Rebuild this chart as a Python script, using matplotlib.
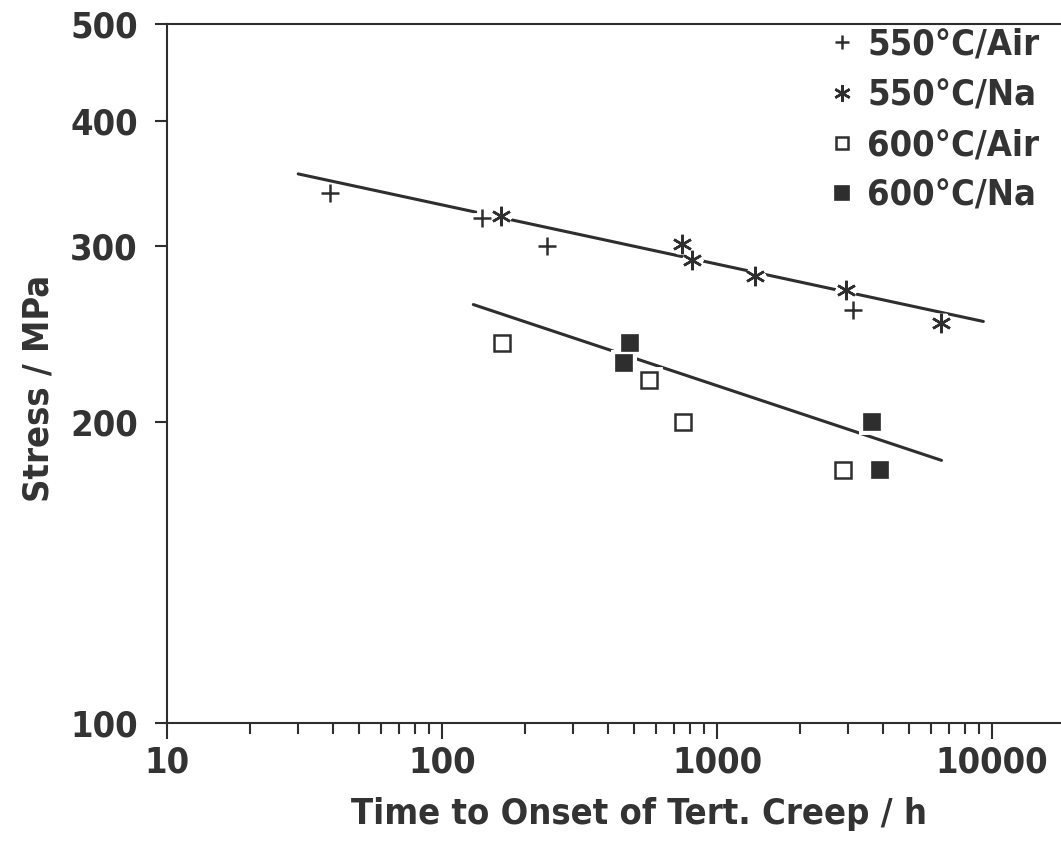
import matplotlib
matplotlib.use('Agg')
import matplotlib.pyplot as plt
from matplotlib.lines import Line2D
from matplotlib.ticker import FixedLocator, FixedFormatter, LogLocator, NullFormatter

# ---- data ----
air550_t = [39, 140, 240, 3130]
air550_s = [339, 320, 300, 259]
na550_t = [164, 745, 810, 1380, 2940, 6520]
na550_s = [321, 301, 290, 280, 271, 251]
air600_t = [165, 567, 755, 2860]
air600_s = [240, 220, 200, 179]
na600_t = [460, 483, 3660, 3925]
na600_s = [229, 240, 200, 179]

fit550_t = [30, 9300]
fit550_s = [354, 252]
fit600_t = [130, 6550]
fit600_s = [262, 183]

x_ticks = [10, 100, 1000, 10000]
x_ticklabels = ['10', '100', '1000', '10000']
y_ticks = [100, 200, 300, 400, 500]
y_ticklabels = ['100', '200', '300', '400', '500']
series_labels = ['550°C/Air', '550°C/Na', '600°C/Air', '600°C/Na']
x_label = 'Time to Onset of Tert. Creep / h'
y_label = 'Stress / MPa'

# ---- style ----
plt.rcParams['font.family'] = ['DejaVu Sans']
plt.rcParams['font.stretch'] = 'condensed'
plt.rcParams['font.weight'] = 'bold'
INK = '#2e2e2e'
TXT = '#333333'
FS = 26

W, H = 1061, 842
fig = plt.figure(figsize=(W / 100, H / 100), dpi=100)
left_px, right_px, top_px, bot_px = 167, 1061, 24, 722.7
ax = fig.add_axes([left_px / W, 1 - bot_px / H, (right_px - left_px) / W, (bot_px - top_px) / H])
ax.set_xscale('log')
ax.set_yscale('log')
ax.set_xlim(10, 10 ** (1 + (right_px - left_px) / 275.0))
ax.set_ylim(100, 500)

# fitted lines
ax.plot(fit550_t, fit550_s, color=INK, lw=2.2, solid_capstyle='round', zorder=2)
ax.plot(fit600_t, fit600_s, color=INK, lw=2.2, solid_capstyle='round', zorder=2)

series = [
    (air550_t, air550_s, dict(marker='+', ms=12.5, mew=1.8, mfc='none', mec=INK)),
    (na550_t, na550_s, dict(marker=(6, 2, 0), ms=14, mew=1.8, mfc='none', mec=INK)),
    (air600_t, air600_s, dict(marker='s', ms=11, mew=1.8, mfc='white', mec=INK)),
    (na600_t, na600_s, dict(marker='s', ms=11.5, mew=1.2, mfc=INK, mec=INK)),
]
# white halo pass (gaps in the lines around markers)
for t, s, kw in series:
    halo = dict(kw)
    halo.update(mfc='white', mec='white', mew=kw['mew'] + 6)
    ax.plot(t, s, ls='none', zorder=3, **halo)
for t, s, kw in series:
    ax.plot(t, s, ls='none', zorder=4, **kw)

# spines
for sp in ['left', 'bottom', 'top']:
    ax.spines[sp].set_linewidth(1.5)
    ax.spines[sp].set_color(INK)
ax.spines['right'].set_visible(False)

# ticks
ax.xaxis.set_major_locator(FixedLocator(x_ticks))
ax.xaxis.set_major_formatter(FixedFormatter(x_ticklabels))
ax.xaxis.set_minor_locator(LogLocator(base=10, subs=range(2, 10)))
ax.xaxis.set_minor_formatter(NullFormatter())
ax.yaxis.set_major_locator(FixedLocator(y_ticks))
ax.yaxis.set_major_formatter(FixedFormatter(y_ticklabels))
ax.yaxis.set_minor_locator(FixedLocator([]))
ax.tick_params(axis='x', which='major', direction='out', length=11.5, width=1.5,
               color=INK, labelsize=FS, labelcolor=TXT, pad=5, top=False)
ax.tick_params(axis='x', which='minor', direction='out', length=8, width=1.5,
               color=INK, top=False)
ax.tick_params(axis='y', which='major', direction='out', length=8.5, width=1.5,
               color=INK, labelsize=FS, labelcolor=TXT, pad=12.5, right=False)
for lab in ax.get_xticklabels() + ax.get_yticklabels():
    lab.set_fontweight('bold')
    lab.set_fontstretch('condensed')

# axis labels
ax.set_xlabel(x_label, fontsize=FS, fontweight='bold', color=TXT)
ax.xaxis.set_label_coords((639 - left_px) / (right_px - left_px), (bot_px - 797) / (bot_px - top_px))
ax.set_ylabel(y_label, fontsize=FS, fontweight='bold', color=TXT)
ax.yaxis.set_label_coords((56 - left_px) / (right_px - left_px), (bot_px - 388) / (bot_px - top_px))

# legend
handles = [Line2D([], [], ls='none', **kw) for _, _, kw in series]
leg = ax.legend(handles, series_labels, loc='upper left',
                bbox_to_anchor=(833 / W, 1 - 28 / H), bbox_transform=fig.transFigure,
                frameon=False, fontsize=FS, borderpad=0, borderaxespad=0,
                handlelength=0.5, handletextpad=0.45, labelspacing=0.45, markerscale=0.85)
for txt in leg.get_texts():
    txt.set_color(TXT)
    txt.set_fontweight('bold')
    txt.set_fontstretch('condensed')

fig.savefig('out.png', dpi=100)
